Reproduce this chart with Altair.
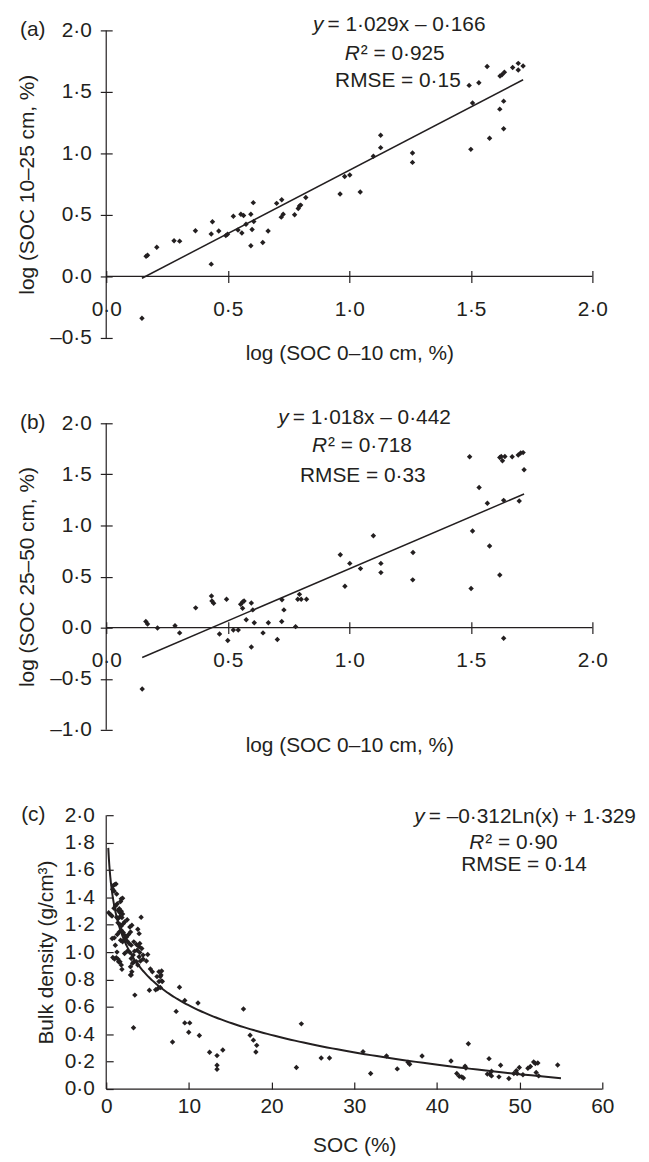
import altair as alt
import numpy as np
import pandas as pd

# ---------------- data ----------------
# (a) log SOC 0-10 cm vs log SOC 10-25 cm
a_x = [0.147, 0.164, 0.170, 0.208, 0.279, 0.302, 0.367, 0.432, 0.437, 0.463, 0.432, 0.492,
       0.499, 0.523, 0.542, 0.554, 0.565, 0.558, 0.575, 0.595, 0.605, 0.607, 0.600, 0.595,
       0.644, 0.666, 0.701, 0.722, 0.720, 0.728, 0.775, 0.790, 0.795, 0.800, 0.821, 0.962,
       1.045, 0.981, 1.002, 1.099, 1.129, 1.129, 1.260, 1.260, 1.500, 1.507, 1.493, 1.533,
       1.567, 1.577, 1.619, 1.635, 1.635, 1.620, 1.628, 1.638, 1.672, 1.695, 1.695, 1.715]
a_y = [-0.340, 0.164, 0.172, 0.238, 0.290, 0.287, 0.372, 0.345, 0.444, 0.370, 0.100, 0.332,
       0.343, 0.490, 0.377, 0.505, 0.495, 0.353, 0.425, 0.505, 0.600, 0.446, 0.382, 0.250,
       0.276, 0.370, 0.594, 0.623, 0.482, 0.505, 0.502, 0.553, 0.572, 0.580, 0.641, 0.670,
       0.687, 0.812, 0.825, 0.977, 1.047, 1.148, 1.004, 0.927, 1.033, 1.410, 1.553, 1.575,
       1.706, 1.124, 1.360, 1.425, 1.200, 1.630, 1.640, 1.660, 1.698, 1.732, 1.678, 1.710]

# (b) log SOC 0-10 cm vs log SOC 25-50 cm
b_x = [0.148, 0.163, 0.170, 0.211, 0.283, 0.302, 0.368, 0.433, 0.435, 0.442, 0.495, 0.466,
       0.500, 0.523, 0.543, 0.553, 0.561, 0.567, 0.561, 0.597, 0.603, 0.576, 0.609, 0.597,
       0.645, 0.667, 0.723, 0.731, 0.722, 0.704, 0.779, 0.788, 0.802, 0.824, 0.795, 0.963,
       0.982, 1.002, 1.046, 1.099, 1.130, 1.130, 1.262, 1.261, 1.501, 1.507, 1.495, 1.534,
       1.568, 1.577, 1.635, 1.699, 1.719, 1.619, 1.625, 1.630, 1.640, 1.670, 1.695, 1.705,
       1.715, 1.619, 1.635]
b_y = [-0.600, 0.061, 0.036, -0.003, 0.019, -0.051, 0.194, 0.310, 0.261, 0.239, 0.278, -0.061,
       -0.126, -0.023, -0.023, 0.229, 0.252, 0.261, 0.190, 0.242, 0.174, 0.077, 0.048, -0.190,
       -0.051, 0.048, 0.274, 0.174, 0.061, -0.116, 0.010, 0.278, 0.278, 0.278, 0.326, 0.713,
       0.406, 0.629, 0.578, 0.900, 0.629, 0.539, 0.736, 0.468, 0.384, 0.946, 1.672, 1.372,
       1.217, 0.800, 1.246, 1.239, 1.546, 1.665, 1.675, 1.634, 1.675, 1.672, 1.690, 1.710,
       1.713, 0.516, -0.103]

# (c) SOC (%) vs bulk density (g/cm3)
c_x = [0.86, 1.02, 1.18, 0.78, 0.94, 1.26, 1.82, 1.98, 1.74, 0.30, 0.54, 0.70,
       0.94, 1.10, 1.34, 1.42, 1.58, 1.66, 1.82, 1.98, 1.26, 1.42, 1.66, 1.90,
       1.42, 1.66, 1.82, 2.06, 2.22, 2.54, 4.22, 0.98, 1.34, 1.58, 1.82, 2.06,
       2.22, 2.46, 2.70, 2.94, 2.86, 3.10, 3.82, 3.98, 1.74, 1.98, 2.22, 2.54,
       2.78, 3.02, 3.34, 3.66, 3.98, 4.06, 1.22, 1.42, 1.66, 1.82, 1.90, 2.22,
       2.54, 2.86, 3.02, 3.26, 3.42, 3.74, 4.06, 4.30, 4.46, 3.98, 2.94, 3.18,
       3.10, 3.34, 3.02, 3.66, 3.82, 4.14, 4.46, 5.02, 4.86, 5.34, 5.58, 6.38,
       6.70, 6.62, 6.54, 6.38, 6.70, 6.22, 6.54, 5.22, 3.46, 3.30, 0.80, 1.00,
       1.50, 2.94, 0.72, 1.10, 1.30, 5.98, 6.14, 6.78,
       8.86, 9.50, 8.46, 11.10, 9.50, 10.10, 9.98, 11.26, 8.02, 12.50, 13.40, 13.40,
       13.40, 14.10, 16.60, 17.40, 17.80, 18.20, 18.10, 23.00, 23.60, 26.00, 27.00, 31.06,
       31.98, 33.90, 35.20, 36.50, 36.70, 38.20, 41.70, 42.40, 42.70, 43.20, 43.00, 43.40,
       43.50, 43.80, 46.30, 46.40, 46.10, 46.60, 46.60, 47.70, 47.50, 48.70, 49.30, 49.60,
       49.70, 49.96, 50.40, 51.00, 51.30, 51.70, 51.90, 52.20, 52.00, 52.30, 54.60]
c_y = [1.486, 1.493, 1.498, 1.459, 1.447, 1.425, 1.389, 1.394, 1.370, 1.288, 1.273, 1.263,
       1.321, 1.336, 1.353, 1.305, 1.317, 1.288, 1.298, 1.278, 1.255, 1.243, 1.258, 1.253,
       1.215, 1.200, 1.190, 1.208, 1.220, 1.237, 1.254, 1.104, 1.128, 1.147, 1.159, 1.143,
       1.123, 1.111, 1.128, 1.147, 1.183, 1.196, 1.167, 1.135, 1.087, 1.075, 1.094, 1.080,
       1.063, 1.051, 1.075, 1.056, 1.039, 1.063, 0.959, 0.949, 0.930, 0.906, 0.874, 0.990,
       1.007, 0.998, 0.954, 0.978, 1.007, 1.014, 0.998, 1.027, 0.978, 0.966, 0.893, 0.918,
       0.857, 0.930, 0.833, 0.930, 0.906, 0.935, 0.949, 0.983, 0.935, 0.877, 0.857, 0.857,
       0.862, 0.833, 0.821, 0.785, 0.790, 0.732, 0.741, 0.722, 0.686, 0.447, 0.960, 0.950,
       0.930, 0.833, 1.100, 1.050, 1.000, 0.725, 0.821, 0.785,
       0.744, 0.647, 0.567, 0.628, 0.483, 0.483, 0.415, 0.391, 0.343, 0.268, 0.244, 0.174,
       0.145, 0.285, 0.585, 0.393, 0.357, 0.319, 0.270, 0.157, 0.476, 0.227, 0.227, 0.273,
       0.114, 0.241, 0.147, 0.196, 0.181, 0.241, 0.205, 0.114, 0.094, 0.080, 0.089, 0.167,
       0.154, 0.331, 0.222, 0.110, 0.109, 0.096, 0.130, 0.174, 0.089, 0.077, 0.114, 0.133,
       0.114, 0.157, 0.104, 0.152, 0.164, 0.198, 0.186, 0.190, 0.121, 0.096, 0.176]

# fitted equations shown on the figure
a_fit = (1.029, -0.166)
b_fit = (1.018, -0.442)
c_fit = (-0.312, 1.329)

log_ticks_x = [0, 0.5, 1.0, 1.5, 2.0]
a_ticks_y = [-0.5, 0, 0.5, 1.0, 1.5, 2.0]
b_ticks_y = [-1.0, -0.5, 0, 0.5, 1.0, 1.5, 2.0]
c_ticks_x = [0, 10, 20, 30, 40, 50, 60]
c_ticks_y = [0, 0.2, 0.4, 0.6, 0.8, 1.0, 1.2, 1.4, 1.6, 1.8, 2.0]

# ---------------- styling ----------------
FONT = "Liberation Sans"
FS = 21
INK = "#231f20"
PT = 30
LBL = "replace(replace(replace(format(datum.value, '.1f'), '.', '\u00b7'), '\u2212', '\u2013'), '-', '\u2013')"


def txt(s, x, y, align="center", italic=False):
    return alt.Chart(pd.DataFrame({"t": [s]})).mark_text(
        font=FONT, fontSize=FS, color=INK, align=align, baseline="middle",
        fontStyle="italic" if italic else "normal"
    ).encode(text="t:N", x=alt.value(x), y=alt.value(y))


def log_panel(xs, ys, fit, ymin, yticks, height, ytitle, tag, eq, pos):
    width = 490
    z = height * (0 - ymin) / (2.0 - ymin)
    xaxis = alt.Axis(values=log_ticks_x, labelExpr=LBL, offset=-(z + 6), tickSize=12,
                     domain=False, labelPadding=16, titlePadding=z - 38,
                     labelFlush=False, labelOverlap=False, grid=False,
                     title="log (SOC 0\u201310 cm, %)")
    yaxis = alt.Axis(values=yticks, labelExpr=LBL, offset=-6, tickSize=12, domain=False,
                     labelPadding=9, titlePadding=12, labelFlush=False, labelOverlap=False,
                     grid=False, title=ytitle)
    xenc = alt.X("x:Q", scale=alt.Scale(domain=[0, 2], nice=False, zero=False), axis=xaxis)
    yenc = alt.Y("y:Q", scale=alt.Scale(domain=[ymin, 2], nice=False, zero=False), axis=yaxis)

    pts = alt.Chart(pd.DataFrame({"x": xs, "y": ys})).mark_point(
        shape="diamond", filled=True, size=PT, color=INK, opacity=1
    ).encode(x=xenc, y=yenc)
    lx = np.array([min(xs), max(xs)])
    line = alt.Chart(pd.DataFrame({"x": lx, "y": fit[0] * lx + fit[1]})).mark_line(
        color=INK, strokeWidth=1.5).encode(x=xenc, y=yenc)
    vrule = alt.Chart(pd.DataFrame({"x": [0.0], "y": [ymin], "y2": [2.0]})).mark_rule(
        color=INK, strokeWidth=1.2).encode(x=xenc, y=yenc, y2="y2:Q")
    hrule = alt.Chart(pd.DataFrame({"x": [0.0], "x2": [2.0], "y": [0.0]})).mark_rule(
        color=INK, strokeWidth=1.2).encode(x=xenc, x2="x2:Q", y=yenc)
    texts = [
        txt(tag, -74, 0),
        txt("y", pos[0], pos[1], align="right", italic=True),
        txt(eq[0], pos[0] + 4, pos[1], align="left"),
        txt("R", pos[2], pos[3], align="right", italic=True),
        txt(eq[1], pos[2] + 1, pos[3], align="left"),
        txt(eq[2], pos[4], pos[5], align="center"),
    ]
    return alt.layer(vrule, hrule, line, pts, *texts).properties(width=width, height=height)


pa = log_panel(a_x, a_y, a_fit, -0.5, a_ticks_y, 310, "log (SOC 10\u201325 cm, %)", "(a)",
               ["= 1\u00b7029x \u2013 0\u00b7166", "\u00b2 = 0\u00b7925", "RMSE = 0\u00b715"],
               [219, -5, 255.5, 24, 294, 51])
pb = log_panel(b_x, b_y, b_fit, -1.0, b_ticks_y, 309, "log (SOC 25\u201350 cm, %)", "(b)",
               ["= 1\u00b7018x \u2013 0\u00b7442", "\u00b2 = 0\u00b7718", "RMSE = 0\u00b733"],
               [184, -5, 222.5, 23, 258.6, 53])

# ---------------- panel (c) ----------------
cx_axis = alt.Axis(values=c_ticks_x, labelExpr="format(datum.value, 'd')", offset=-7, tickSize=7,
                   domain=False, labelPadding=7, titlePadding=18, labelFlush=False,
                   labelOverlap=False, grid=False, title="SOC (%)")
cy_axis = alt.Axis(values=c_ticks_y, labelExpr=LBL, offset=-7, tickSize=7, domain=False,
                   labelPadding=12, titlePadding=8, labelFlush=False, labelOverlap=False,
                   grid=False, title="Bulk density (g/cm\u00b3)")
cxe = alt.X("x:Q", scale=alt.Scale(domain=[0, 60], nice=False, zero=False), axis=cx_axis)
cye = alt.Y("y:Q", scale=alt.Scale(domain=[0, 2], nice=False, zero=False), axis=cy_axis)

c_pts = alt.Chart(pd.DataFrame({"x": c_x, "y": c_y})).mark_point(
    shape="diamond", filled=True, size=PT, color=INK, opacity=1).encode(x=cxe, y=cye)
cur_x = np.geomspace(0.25, 55, 240)
c_curve = alt.Chart(pd.DataFrame({"x": cur_x, "y": c_fit[0] * np.log(cur_x) + c_fit[1]})).mark_line(
    color=INK, strokeWidth=2).encode(x=cxe, y=cye)
c_v = alt.Chart(pd.DataFrame({"x": [0.0], "y": [0.0], "y2": [2.0]})).mark_rule(
    color=INK, strokeWidth=1.2).encode(x=cxe, y=cye, y2="y2:Q")
c_h = alt.Chart(pd.DataFrame({"x": [0.0], "x2": [60.0], "y": [0.0]})).mark_rule(
    color=INK, strokeWidth=1.2).encode(x=cxe, x2="x2:Q", y=cye)
c_texts = [
    txt("(c)", -73.5, 0),
    txt("y", 321, 2, align="right", italic=True),
    txt("= \u20130\u00b7312Ln(x) + 1\u00b7329", 325, 2, align="left"),
    txt("R", 381, 28.5, align="right", italic=True),
    txt("\u00b2 = 0\u00b790", 382, 28.5, align="left"),
    txt("RMSE = 0\u00b714", 421, 50, align="center"),
]
pc = alt.layer(c_v, c_h, c_curve, c_pts, *c_texts).properties(width=500, height=276)

chart = alt.vconcat(pa, pb, pc, spacing=86, bounds="flush").properties(
    padding={"left": 8, "top": 2, "right": 5, "bottom": 5}
).configure_view(stroke=None).configure_axis(
    labelFont=FONT, titleFont=FONT, labelFontSize=FS, titleFontSize=FS,
    titleFontWeight="normal", labelColor=INK, titleColor=INK, tickColor=INK, tickWidth=1.2
)

chart.save("out.html", embed_options={"renderer": "svg", "actions": False})
